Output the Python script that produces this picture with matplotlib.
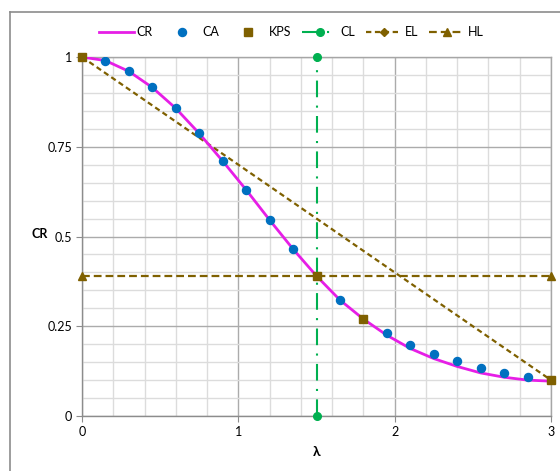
import matplotlib.pyplot as plt
from matplotlib.lines import Line2D
import numpy as np

plt.rcParams.update({
    'font.family': ['Lato', 'DejaVu Sans'],
    'font.size': 9,
})

# 数据
cr_x = [0, 0.15, 0.3, 0.45, 0.6, 0.75, 0.9, 1.05, 1.2, 1.35, 1.5,
        1.65, 1.8, 1.95, 2.1, 2.25, 2.4, 2.55, 2.7, 2.85, 3.0]
cr_y = [1.0, 0.99, 0.96, 0.915, 0.857, 0.787, 0.71, 0.63, 0.546, 0.465, 0.39,
        0.323, 0.27, 0.225, 0.188, 0.16, 0.138, 0.12, 0.108, 0.1, 0.097]

ca_x = [0.15, 0.3, 0.45, 0.6, 0.75, 0.9, 1.05, 1.2, 1.35,
        1.65, 1.95, 2.1, 2.25, 2.4, 2.55, 2.7, 2.85]
ca_y = [0.989, 0.961, 0.916, 0.858, 0.788, 0.71, 0.63, 0.546, 0.465,
        0.323, 0.231, 0.198, 0.173, 0.153, 0.134, 0.12, 0.109]

kps_x = [0, 1.5, 1.8, 3.0]
kps_y = [1.0, 0.39, 0.27, 0.1]

cl_x = [1.5, 1.5]
cl_y = [0, 1]

el_x = [0, 3]
el_y = [1.0, 0.1]

hl_x = [0, 3]
hl_y = [0.39, 0.39]

c_cr = '#E61EE6'
c_ca = '#0070C0'
c_brown = '#7F6000'
c_green = '#00B050'

fig = plt.figure(figsize=(5.6, 4.71), dpi=100)
ax = fig.add_axes([82/560, 55/471, 469/560, 359/471])

# 外框（Excel 图表区边框）
fig.add_artist(Line2D([10/560, 1], [1-12/471, 1-12/471], color='#8c8c8c', lw=1.2))
fig.add_artist(Line2D([10/560, 10/560], [0, 1-12/471], color='#8c8c8c', lw=1.2))

# 网格
ax.set_xlim(0, 3)
ax.set_ylim(0, 1)
ax.set_xticks([0, 1, 2, 3])
ax.set_yticks([0, 0.25, 0.5, 0.75, 1])
ax.set_yticklabels(['0', '0.25', '0.5', '0.75', '1'])
ax.set_xticks(np.arange(0, 3.01, 0.2), minor=True)
ax.set_yticks(np.arange(0, 1.001, 0.05), minor=True)
ax.grid(True, which='major', color='#ababab', lw=1.0)
ax.grid(True, which='minor', color='#dcdcdc', lw=1.0)
ax.set_axisbelow(True)
ax.tick_params(which='minor', length=0)
ax.tick_params(which='major', length=4, color='#8c8c8c', labelsize=9, pad=3)

for s in ax.spines.values():
    s.set_color('#a6a6a6')
    s.set_linewidth(1.0)
ax.spines['left'].set_color('#8c8c8c')
ax.spines['bottom'].set_color('#8c8c8c')

# 曲线
ax.plot(el_x, el_y, color=c_brown, lw=1.6, dashes=(2.4, 1.6), marker='D',
        markersize=4, label='EL', zorder=3)
ax.plot(hl_x, hl_y, color=c_brown, lw=1.6, dashes=(3.5, 1.8), marker='^',
        markersize=6, label='HL', zorder=3, clip_on=False)
ax.plot(cl_x, cl_y, color=c_green, lw=1.5, dashes=(8, 4, 1, 4), marker='o',
        markersize=5.5, label='CL', zorder=4, clip_on=False)
ax.plot(cr_x, cr_y, color=c_cr, lw=2.0, label='CR', zorder=5)
ax.plot(ca_x, ca_y, 'o', color=c_ca, markersize=5.8, label='CA', zorder=6)
ax.plot(kps_x, kps_y, 's', color=c_brown, markersize=6, label='KPS', zorder=7,
        clip_on=False)

ax.set_xlabel('λ', fontsize=10, fontweight='bold', labelpad=6)
ax.set_ylabel('CR', fontsize=9, fontweight='bold', rotation=0)
ax.yaxis.set_label_coords(-0.09, 0.49)

# 图例
h, l = ax.get_legend_handles_labels()
order = ['CR', 'CA', 'KPS', 'CL', 'EL', 'HL']
hd = dict(zip(l, h))
fig.legend([hd[k] for k in order], order, loc='center', ncol=6,
           bbox_to_anchor=(291/560, 1-32/471), frameon=False, fontsize=9,
           handlelength=2.8, columnspacing=0.9, handletextpad=0.25,
           borderpad=0.2)

plt.savefig('out.png', dpi=100)
